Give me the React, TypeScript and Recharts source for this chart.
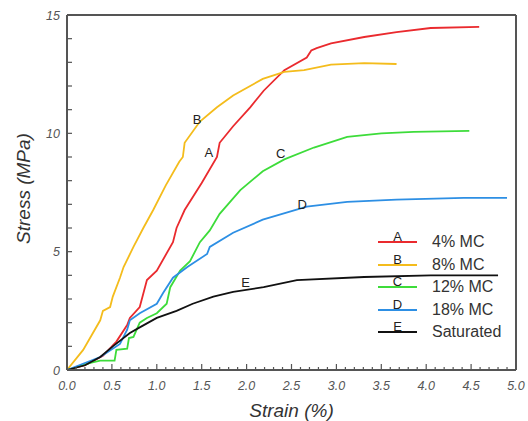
import { Legend, Line, LineChart, ReferenceDot, XAxis, YAxis } from "recharts";

// Strain (%) / stress (MPa) pairs, one pair of arrays per curve.
const strainA = [0, 0.2, 0.4, 0.55, 0.67, 0.7, 0.81, 0.89, 1.0, 1.18, 1.22, 1.31, 1.5, 1.67, 1.7, 1.85, 2.04, 2.19, 2.42, 2.67, 2.72, 2.78, 2.94, 3.31, 3.67, 4.05, 4.59];
const stressA = [0, 0.2, 0.6, 1.2, 1.9, 2.2, 2.66, 3.8, 4.2, 5.4, 6.0, 6.76, 7.9, 9.0, 9.6, 10.3, 11.1, 11.8, 12.67, 13.2, 13.5, 13.6, 13.8, 14.07, 14.28, 14.45, 14.5];

const strainB = [0, 0.18, 0.37, 0.4, 0.48, 0.51, 0.59, 0.63, 0.74, 0.85, 0.96, 1.1, 1.25, 1.29, 1.31, 1.48, 1.67, 1.85, 2.18, 2.42, 2.64, 2.94, 3.31, 3.67];
const stressB = [0, 0.85, 2.1, 2.5, 2.66, 3.1, 3.9, 4.35, 5.2, 6.0, 6.76, 7.8, 8.8, 9.0, 9.6, 10.5, 11.1, 11.6, 12.3, 12.6, 12.67, 12.9, 12.97, 12.93];

const strainC = [0, 0.26, 0.37, 0.53, 0.55, 0.67, 0.69, 0.74, 0.81, 0.89, 1.0, 1.11, 1.15, 1.26, 1.37, 1.48, 1.59, 1.7, 1.93, 2.18, 2.42, 2.75, 3.12, 3.5, 3.86, 4.48];
const stressC = [0, 0.3, 0.4, 0.4, 0.85, 0.9, 1.35, 1.4, 2.0, 2.2, 2.4, 2.8, 3.5, 4.2, 4.6, 5.4, 5.9, 6.6, 7.6, 8.4, 8.9, 9.4, 9.85, 10.0, 10.06, 10.1];

const strainD = [0, 0.37, 0.59, 0.67, 0.7, 0.81, 1.0, 1.07, 1.18, 1.34, 1.56, 1.59, 1.85, 2.18, 2.67, 3.12, 3.67, 4.42, 4.9];
const stressD = [0, 0.55, 1.1, 1.7, 2.1, 2.4, 2.8, 3.25, 3.9, 4.35, 4.9, 5.2, 5.8, 6.35, 6.9, 7.1, 7.2, 7.27, 7.27];

const strainE = [0, 0.2, 0.37, 0.51, 0.7, 0.81, 1.0, 1.22, 1.4, 1.63, 1.85, 2.19, 2.56, 3.31, 4.05, 4.8];
const stressE = [0, 0.2, 0.55, 1.0, 1.56, 1.8, 2.2, 2.5, 2.8, 3.1, 3.3, 3.5, 3.8, 3.93, 4.0, 4.0];

const seriesNames = ["4% MC", "8% MC", "12% MC", "18% MC", "Saturated"];
const seriesLetters = ["A", "B", "C", "D", "E"];
const seriesColors = ["#ea2a2e", "#f4bc1c", "#3ddc3a", "#2d8fe4", "#111111"];

// where the letter tags sit next to each curve
const letterStrain = [1.58, 1.45, 2.38, 2.62, 1.99];
const letterStress = [9.2, 10.6, 9.17, 7.0, 3.7];

const xTicks = Array.from({ length: 51 }, (_, i) => i / 10);
const yTicks = Array.from({ length: 16 }, (_, i) => i);
const xLabelTicks = [0, 0.5, 1, 1.5, 2, 2.5, 3, 3.5, 4, 4.5, 5];
const yLabelTicks = [0, 5, 10, 15];

const FONT = "'Liberation Sans', Arial, sans-serif";

const toPoints = (xs: number[], ys: number[]) => xs.map((x, i) => ({ x, y: ys[i] }));
const curves = [
  toPoints(strainA, stressA),
  toPoints(strainB, stressB),
  toPoints(strainC, stressC),
  toPoints(strainD, stressD),
  toPoints(strainE, stressE),
];

const isMajorX = (v: number) => xLabelTicks.some((t) => Math.abs(t - v) < 1e-6);

// tick marks point inward
function BottomTick({ x, y, payload }: any) {
  const major = isMajorX(payload.value);
  return (
    <g>
      <rect x={x - 0.6} y={y - (major ? 6 : 3)} width={1.2} height={major ? 6 : 3} fill="#555555" />
      {major && (
        <text x={x} y={y + 19.5} textAnchor="middle" fontFamily={FONT} fontStyle="italic" fontSize={12.5} fill="#555555">
          {payload.value.toFixed(1)}
        </text>
      )}
    </g>
  );
}

function TopTick({ x, y, payload }: any) {
  const major = isMajorX(payload.value);
  return <rect x={x - 0.6} y={y} width={1.2} height={major ? 6 : 3} fill="#555555" />;
}

function LeftTick({ x, y, payload }: any) {
  return (
    <g>
      <rect x={x} y={y - 0.6} width={5} height={1.2} fill="#555555" />
      {yLabelTicks.includes(payload.value) && (
        <text x={x - 7} y={y + 4.5} textAnchor="end" fontFamily={FONT} fontStyle="italic" fontSize={12.5} fill="#555555">
          {payload.value}
        </text>
      )}
    </g>
  );
}

function RightTick({ x, y }: any) {
  return <rect x={x - 5} y={y - 0.6} width={5} height={1.2} fill="#555555" />;
}

function LegendBox() {
  return (
    <div style={{ fontFamily: FONT }}>
      {seriesNames.map((name, i) => (
        <div key={name} style={{ height: 22.5, display: "flex", alignItems: "center" }}>
          <div style={{ position: "relative", width: 39, height: 2, background: seriesColors[i] }}>
            <span
              style={{
                position: "absolute",
                left: 0,
                width: 39,
                bottom: 0,
                textAlign: "center",
                fontSize: 13,
                lineHeight: "13px",
                color: "#222",
              }}
            >
              {seriesLetters[i]}
            </span>
          </div>
          <span style={{ marginLeft: 15, fontSize: 16, color: "#333", lineHeight: "16px" }}>{name}</span>
        </div>
      ))}
    </div>
  );
}

function YTitle(props: any) {
  const vb = props.viewBox;
  const cx = vb.x + 23;
  const cy = vb.y + vb.height / 2 - 4;
  return (
    <text
      x={cx}
      y={cy}
      transform={`rotate(-90 ${cx} ${cy})`}
      textAnchor="middle"
      dominantBaseline="central"
      fontFamily={FONT}
      fontStyle="italic"
      fontSize={19}
      fill="#333"
    >
      Stress (MPa)
    </text>
  );
}

export default function App() {
  return (
    <div style={{ position: "absolute", left: 0, top: 0 }}>
      <LineChart width={528} height={421} margin={{ top: 0, right: 0, bottom: 0, left: 0 }}>
        <XAxis
          type="number"
          dataKey="x"
          domain={[0, 5]}
          ticks={xTicks}
          interval={0}
          tickSize={0}
          tickMargin={0}
          tickLine={false}
          tick={<BottomTick />}
          height={51}
          axisLine={{ stroke: "#555555", strokeWidth: 2 }}
          label={{
            value: "Strain (%)",
            position: "insideBottom",
            offset: 4,
            fontFamily: FONT,
            fontStyle: "italic",
            fontSize: 19,
            fill: "#333",
          }}
        />
        <XAxis
          xAxisId="top"
          orientation="top"
          type="number"
          dataKey="x"
          domain={[0, 5]}
          ticks={xTicks}
          interval={0}
          tickSize={0}
          tickMargin={0}
          tickLine={false}
          tick={<TopTick />}
          height={15}
          axisLine={{ stroke: "#555555", strokeWidth: 2 }}
        />
        <YAxis
          type="number"
          domain={[0, 15]}
          ticks={yTicks}
          interval={0}
          tickSize={0}
          tickMargin={0}
          tickLine={false}
          tick={<LeftTick />}
          width={67}
          axisLine={{ stroke: "#555555", strokeWidth: 2 }}
          label={{ content: YTitle }}
        />
        <YAxis
          yAxisId="right"
          orientation="right"
          type="number"
          domain={[0, 15]}
          ticks={yTicks}
          interval={0}
          tickSize={0}
          tickMargin={0}
          tickLine={false}
          tick={<RightTick />}
          width={12}
          axisLine={{ stroke: "#555555", strokeWidth: 2 }}
        />
        {curves.map((pts, i) => (
          <Line
            key={seriesNames[i]}
            data={pts}
            dataKey="y"
            name={seriesNames[i]}
            type="linear"
            stroke={seriesColors[i]}
            strokeWidth={1.8}
            dot={false}
            isAnimationActive={false}
          />
        ))}
        {seriesLetters.map((letter, i) => (
          <ReferenceDot
            key={letter}
            x={letterStrain[i]}
            y={letterStress[i]}
            r={0}
            fill="none"
            stroke="none"
            label={{ value: letter, position: "center", fill: "#222", fontSize: 13, fontFamily: FONT }}
          />
        ))}
        <Legend
          layout="horizontal"
          verticalAlign="middle"
          align="center"
          wrapperStyle={{ left: 378, top: 231, width: 150 }}
          content={() => <LegendBox />}
        />
      </LineChart>
    </div>
  );
}
